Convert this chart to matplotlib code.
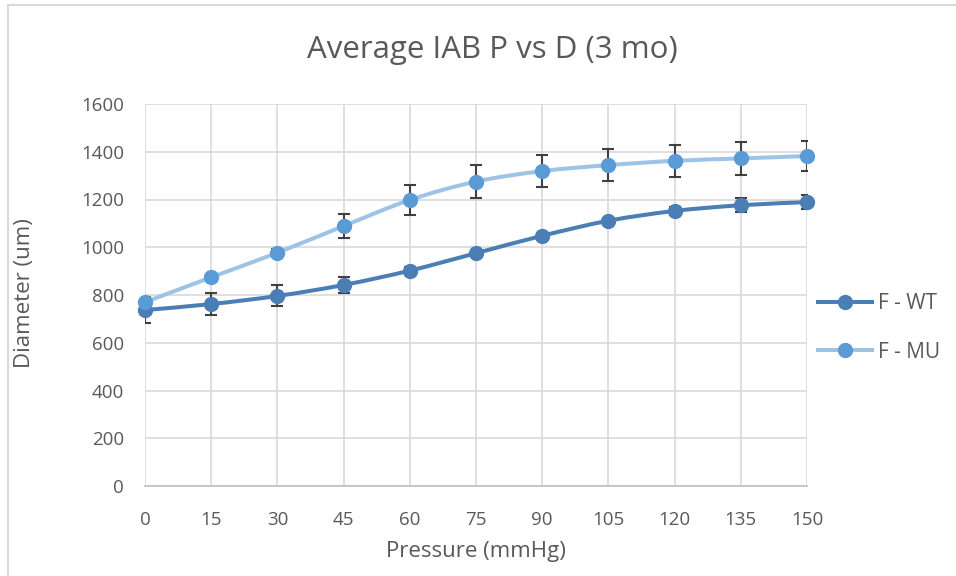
import numpy as np
import matplotlib.pyplot as plt
from matplotlib.path import Path
from matplotlib.patches import PathPatch
from matplotlib.lines import Line2D

pressure = [0, 15, 30, 45, 60, 75, 90, 105, 120, 135, 150]
wt_mean = [737, 762, 796, 842, 902, 975, 1048, 1111, 1152, 1176, 1189]
wt_err = [53, 46, 44, 34, 15, 10, 10, 10, 15, 30, 30]
mu_mean = [770, 874, 977, 1089, 1198, 1275, 1319, 1344, 1362, 1372, 1382]
mu_err = [15, 15, 15, 50, 62, 69, 68, 67, 66, 69, 62]

plt.rcParams['font.family'] = ['Open Sans', 'DejaVu Sans']
text_color = '#595959'
W, H = 956, 576


def smooth_path(x, y):
    # Bezier path through the points, like a spreadsheet "smoothed line"
    x = np.asarray(x, float)
    y = np.asarray(y, float)
    verts = [(x[0], y[0])]
    codes = [Path.MOVETO]
    n = len(x)
    for i in range(n - 1):
        x0, y0 = (x[i - 1], y[i - 1]) if i > 0 else (x[i], y[i])
        x3, y3 = (x[i + 2], y[i + 2]) if i + 2 < n else (x[i + 1], y[i + 1])
        c1 = (x[i] + (x[i + 1] - x0) / 6, y[i] + (y[i + 1] - y0) / 6)
        c2 = (x[i + 1] - (x3 - x[i]) / 6, y[i + 1] - (y3 - y[i]) / 6)
        verts += [c1, c2, (x[i + 1], y[i + 1])]
        codes += [Path.CURVE4] * 3
    return Path(verts, codes)


fig = plt.figure(figsize=(W / 100, H / 100), dpi=100)
ax = fig.add_axes([145 / W, 90 / H, 662 / W, 382 / H])

series = [
    ('F - WT', wt_mean, wt_err, '#4a7eb5', '#4a7eb5'),
    ('F - MU', mu_mean, mu_err, '#9dc3e6', '#5b9bd5'),
]
handles = []
for name, mean, err, lc, mc in series:
    ax.add_patch(PathPatch(smooth_path(pressure, mean), fill=False, edgecolor=lc,
                           lw=2.9, zorder=3, capstyle='round'))
    ax.errorbar(pressure, mean, yerr=err, fmt='none', ecolor='#404040',
                elinewidth=1.5, capsize=4.5, capthick=1.5, zorder=4)
    ax.plot(pressure, mean, 'o', color=mc, ms=10, zorder=5, clip_on=False)
    handles.append(Line2D([], [], color=lc, lw=2.9, marker='o', ms=10, mfc=mc, mec=mc, label=name))

ax.set_xlim(0, 150)
ax.set_ylim(0, 1600)
ax.set_xticks(pressure)
ax.set_yticks(range(0, 1601, 200))
ax.grid(True, color='#d9d9d9', lw=1.2)
ax.set_axisbelow(True)
for s in ax.spines.values():
    s.set_visible(False)
ax.spines['bottom'].set_visible(True)
ax.spines['bottom'].set_color('#bfbfbf')
ax.spines['bottom'].set_linewidth(1.2)
ax.tick_params(length=0, labelsize=13.5, colors=text_color)
ax.tick_params(axis='x', pad=18)
ax.tick_params(axis='y', pad=15)

fig.text(492 / W, 1 - 50 / H, 'Average IAB P vs D (3 mo)', fontsize=22.5,
         color=text_color, ha='center', va='center')
fig.text(476 / W, 1 - 552 / H, 'Pressure (mmHg)', fontsize=16,
         color=text_color, ha='center', va='center')
fig.text(25 / W, 1 - 293 / H, 'Diameter (um)', fontsize=16, rotation=90,
         color=text_color, ha='center', va='center')

fig.legend(handles=handles, loc='center left', bbox_to_anchor=(818 / W, 1 - 328 / H),
           frameon=False, fontsize=15, labelcolor=text_color, handlelength=2.6,
           handletextpad=0.3, labelspacing=1.3, borderpad=0, borderaxespad=0)

# chart area border (left and top edges visible)
fig.add_artist(Line2D([8 / W, 8 / W], [0, 1 - 5 / H], color='#d9d9d9', lw=1.5))
fig.add_artist(Line2D([8 / W, 1], [1 - 5 / H, 1 - 5 / H], color='#d9d9d9', lw=1.5))

fig.savefig('out.png', dpi=100)
